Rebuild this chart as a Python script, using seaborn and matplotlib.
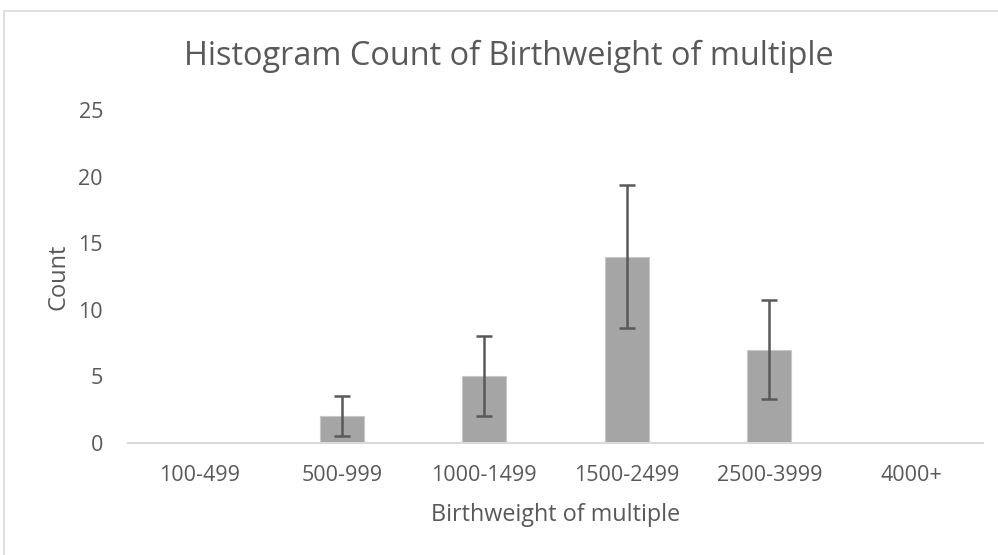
import numpy as np
import pandas as pd
import matplotlib
matplotlib.use("Agg")
import matplotlib.pyplot as plt
from matplotlib.patches import Rectangle
import seaborn as sns

# --- data ---
categories = ["100-499", "500-999", "1000-1499", "1500-2499", "2500-3999", "4000+"]
counts = [0, 2, 5, 14, 7, 0]
err_minus = [0, 1.5, 3.0, 5.4, 3.7, 0]
err_plus = [0, 1.5, 3.0, 5.4, 3.7, 0]

TEXT = "#595959"
BAR = "#A5A5A5"
GRID = "#D9D9D9"

sns.set_theme(style="white")
plt.rcParams["font.family"] = ["Open Sans", "DejaVu Sans"]

df = pd.DataFrame({"bin": categories, "count": counts})

fig = plt.figure(figsize=(9.98, 5.55), dpi=100)
ax = fig.add_axes([128 / 998, 112 / 555, 855 / 998, 333 / 555])

sns.barplot(data=df, x="bin", y="count", color=BAR, width=0.31,
            edgecolor="#C8C8C8", linewidth=0.8, saturation=1, ax=ax)

# error bars only where there is a bar
xs = np.arange(len(categories))
mask = np.array(counts) > 0
ax.errorbar(xs[mask], np.array(counts)[mask],
            yerr=[np.array(err_minus)[mask], np.array(err_plus)[mask]],
            fmt="none", ecolor=TEXT, elinewidth=1.8, capsize=6, capthick=1.8, zorder=5)

ax.set_ylim(0, 25)
ax.set_xlim(-0.5, len(categories) - 0.5)
ax.set_yticks([0, 5, 10, 15, 20, 25])
ax.tick_params(axis="both", length=0, colors=TEXT, labelsize=15.5)
ax.tick_params(axis="x", pad=16)
ax.tick_params(axis="y", pad=18)

for side in ["top", "right", "left"]:
    ax.spines[side].set_visible(False)
ax.spines["bottom"].set_color(GRID)
ax.spines["bottom"].set_linewidth(1.5)

ax.set_xlabel("Birthweight of multiple", fontsize=16.8, color=TEXT, labelpad=12)
ax.set_ylabel("Count", fontsize=17, color=TEXT, labelpad=6)
fig.text(509 / 998, 1 - 65 / 555, "Histogram Count of Birthweight of multiple",
         ha="center", va="baseline", fontsize=23.4, color=TEXT)

# chart area frame (cropped at right and bottom like the reference)
fig.add_artist(Rectangle((3.5 / 998, -0.1), 1.2, (555 - 10.5) / 555 + 0.1,
                         transform=fig.transFigure, fill=False,
                         edgecolor=GRID, linewidth=1.2))

fig.savefig("out.png", dpi=100)
